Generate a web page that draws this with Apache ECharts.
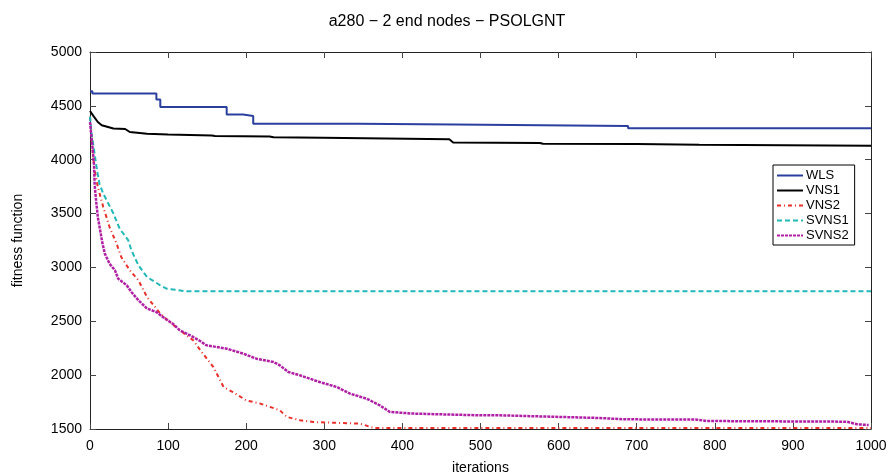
<!DOCTYPE html>
<html>
<head>
<meta charset="utf-8">
<script src="https://cdn.jsdelivr.net/npm/echarts@6/dist/echarts.min.js"></script>
<style>
  html, body { margin: 0; padding: 0; background: #fff; }
  #chart { width: 894px; height: 475px; }
</style>
</head>
<body>
<div id="chart"></div>
<script>
// [iteration, fitness] pairs
const wls = [[0,4635],[3,4614],[85,4560],[90,4490],[175,4419],[196,4405],[209,4335],[343,4326],[467,4312],[689,4292],[1000,4292]]
const vns1 = [[0,4452],[5,4400],[10,4350],[15,4320],[30,4289],[45,4285],[51,4257],[73,4242],[100,4233],[156,4225],[160,4220],
  [230,4215],[235,4208],[298,4205],[300,4196],[460,4190],[465,4160],[576,4155],[580,4148],[700,4145],[780,4140],[1000,4130]]
const vns2 = [[0,4400],[2,4200],[4,4025],[6,3902],[10,3747],[17,3561],[25,3375],[34,3221],[40,3097],[51,2973],[62,2880],[73,2725],
  [90,2571],[107,2463],[132,2324],[143,2215],[158,2075],[171,1890],[183,1843],[200,1766],[218,1736],[243,1674],[252,1612],
  [269,1581],[286,1565],[346,1550],[363,1510],[1000,1510]]
const svns1 = [[0,4400],[2,4245],[5,4100],[8,3950],[12,3778],[17,3685],[30,3500],[38,3360],[49,3252],[53,3159],[62,3020],
  [73,2911],[90,2834],[98,2803],[124,2778],[1000,2778]]
const svns2 = [[0,4350],[4,4057],[5,3967],[6,3762],[8,3607],[10,3468],[13,3345],[16,3221],[19,3128],[25,3035],[32,2973],
  [36,2896],[47,2834],[53,2772],[62,2695],[73,2618],[85,2586],[96,2525],[107,2472],[115,2416],[128,2370],[141,2317],
  [149,2277],[175,2246],[196,2200],[213,2153],[235,2122],[243,2091],[254,2029],[269,1998],[294,1936],[316,1890],
  [333,1828],[354,1782],[371,1720],[384,1658],[414,1643],[499,1627],[525,1627],[653,1602],[683,1590],[777,1587],
  [790,1574],[969,1568],[982,1544],[997,1537]]
const seriesNames = ['WLS', 'VNS1', 'VNS2', 'SVNS1', 'SVNS2']

const font = 'Liberation Sans, Arial, sans-serif'
const chart = echarts.init(document.getElementById('chart'))

const boxAxis = {
  axisLine: { show: true, onZero: false, lineStyle: { color: '#222', width: 1 } },
  axisTick: { show: true, inside: true, length: 6, lineStyle: { color: '#444' } },
  splitLine: { show: false }
}

chart.setOption({
  animation: false,
  backgroundColor: '#fff',
  textStyle: { fontFamily: font },
  title: {
    text: 'a280 − 2 end nodes − PSOLGNT',
    left: 'center',
    top: 9,
    textStyle: { fontFamily: font, fontSize: 16, fontWeight: 'normal', color: '#000' }
  },
  grid: { left: 90, right: 23, top: 52, bottom: 46, containLabel: false, outerBoundsMode: 'none' },
  legend: {
    orient: 'vertical',
    left: 773,
    top: 165,
    padding: [4, 6, 3, 3],
    itemGap: 2,
    itemWidth: 26,
    itemHeight: 12,
    backgroundColor: '#fff',
    borderColor: '#000',
    borderWidth: 1,
    itemStyle: { opacity: 0 },
    textStyle: { fontFamily: font, fontSize: 13, color: '#000', padding: [0, 0, 0, -2] },
    data: seriesNames
  },
  xAxis: [
    Object.assign({}, boxAxis, {
      type: 'value', min: 0, max: 1000, interval: 100,
      name: 'iterations', nameLocation: 'middle', nameGap: 32,
      nameTextStyle: { fontFamily: font, fontSize: 14, color: '#000' },
      axisLabel: { fontFamily: font, fontSize: 14, color: '#000', margin: 10, formatter: v => String(v) }
    }),
    Object.assign({}, boxAxis, {
      type: 'value', min: 0, max: 1000, interval: 100, position: 'top',
      axisLabel: { show: false }
    })
  ],
  yAxis: [
    Object.assign({}, boxAxis, {
      type: 'value', min: 1500, max: 5000, interval: 500,
      name: 'fitness function', nameLocation: 'middle', nameGap: 65,
      nameTextStyle: { fontFamily: font, fontSize: 14, color: '#000' },
      axisLabel: { fontFamily: font, fontSize: 14, color: '#000', margin: 8, formatter: v => String(v) }
    }),
    Object.assign({}, boxAxis, {
      type: 'value', min: 1500, max: 5000, interval: 500, position: 'right',
      axisLabel: { show: false }
    })
  ],
  series: [
    { name: seriesNames[0], type: 'line', step: 'end', data: wls, showSymbol: false, symbol: 'none',
      color: '#2b3f9e', lineStyle: { color: '#2b3f9e', width: 2 } },
    { name: seriesNames[1], type: 'line', data: vns1, showSymbol: false, symbol: 'none',
      color: '#000', lineStyle: { color: '#000', width: 2 } },
    { name: seriesNames[2], type: 'line', data: vns2, showSymbol: false, symbol: 'none',
      color: '#e8302a', lineStyle: { color: '#e8302a', width: 2, type: [4, 3, 1, 3] } },
    { name: seriesNames[3], type: 'line', data: svns1, showSymbol: false, symbol: 'none',
      color: '#22b8b8', lineStyle: { color: '#22b8b8', width: 2, type: [5, 3] } },
    { name: seriesNames[4], type: 'line', data: svns2, showSymbol: false, symbol: 'none',
      color: '#b020a4', lineStyle: { color: '#b020a4', width: 2.5, type: [3, 1] } }
  ]
})
</script>
</body>
</html>
